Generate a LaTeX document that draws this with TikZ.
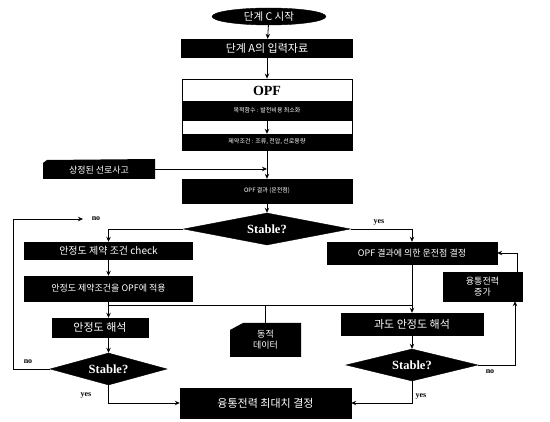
\documentclass[tikz,border=0pt]{standalone}
\usepackage{fontspec}
\setmainfont{Liberation Serif}
\newfontfamily\kr{Noto Sans CJK KR}
\usetikzlibrary{shapes.geometric,arrows.meta}
\begin{document}
\begin{tikzpicture}[x=1pt,y=-1pt,
  blk/.style={draw=black,fill=black,text=white,inner sep=0pt,align=center,
    font=\kr\fontsize{11}{12}\selectfont},
  dia/.style={diamond,aspect=5,draw=black,fill=black,text=white,inner sep=0pt,
    font=\bfseries\fontsize{12.5}{13}\selectfont},
  arr/.style={-{Stealth[length=5pt,width=4.5pt]},line width=0.8pt},
  ln/.style={line width=0.8pt},
  lbl/.style={font=\bfseries\fontsize{8}{9}\selectfont,inner sep=0pt}]
\useasboundingbox (0,0) rectangle (550,422);
\fill[white] (0,0) rectangle (550,422);

% top part
\node[ellipse,draw=black,fill=black,text=white,inner sep=0pt,minimum width=114,minimum height=17,
  font=\kr\fontsize{10.5}{11}\selectfont] (start) at (269,16.5) {단계 C 시작};
\node[blk,minimum width=171,minimum height=18] (inA) at (267,48) {단계 A의 입력자료};
\node[draw=black,line width=0.8pt,fill=white,minimum width=170,minimum height=71,inner sep=0pt] (opf) at (267,114.5) {};
\node[font=\bfseries\fontsize{14}{15}\selectfont,inner sep=0pt] (opft) at (267,91) {OPF};
\node[blk,minimum width=170,minimum height=19,font=\kr\fontsize{6}{7}\selectfont] (bar1) at (267,110.5) {목적함수 : 발전비용 최소화};
\node[blk,minimum width=170,minimum height=16,font=\kr\fontsize{6}{7}\selectfont] (bar2) at (267,142) {제약조건 : 조류, 전압, 선로용량};
\node[blk,minimum width=170,minimum height=24,font=\kr\fontsize{6}{7}\selectfont] (res) at (267,191) {OPF 결과 (운전점)};

% side input
\fill (43,163) -- (47,160) -- (155,159) -- (155,179) -- (43,179) -- cycle;
\node[text=white,font=\kr\fontsize{9}{10}\selectfont,inner sep=0pt] (side) at (99,170) {상정된 선로사고};
\coordinate (sideR) at (155,169);

\node[dia,minimum width=167,minimum height=32] (d1) at (267,229) {Stable?};

% left column
\node[blk,minimum width=168,minimum height=17,font=\kr\fontsize{10}{11}\selectfont] (lb1) at (108.5,250.5) {안정도 제약 조건 check};
\node[blk,minimum width=168,minimum height=25,font=\kr\fontsize{9}{10}\selectfont] (lb2) at (108.5,288.5) {안정도 제약조건을 OPF에 적용};
\node[blk,minimum width=96,minimum height=19] (lb3) at (100,327.5) {안정도 해석};
\node[dia,minimum width=117,minimum height=32] (d2) at (108.5,369) {Stable?};

% middle data box
\fill (230,330) -- (243,323) -- (301,323) -- (301,357) -- (230,357) -- cycle;
\node[text=white,font=\kr\fontsize{9}{11}\selectfont,inner sep=0pt,align=center] (mid) at (265.5,340) {동적\\데이터};
\coordinate (midN) at (265.5,323);

% right column
\node[blk,minimum width=170,minimum height=22,font=\kr\fontsize{9}{10}\selectfont] (rb1) at (412,253) {OPF 결과에 의한 운전점 결정};
\node[blk,minimum width=79,minimum height=29,font=\kr\fontsize{9}{11}\selectfont] (rb2) at (482.5,286.5) {융통전력\\증가};
\node[blk,minimum width=142,minimum height=22] (rb3) at (412,324) {과도 안정도 해석};
\node[dia,minimum width=132,minimum height=32] (d3) at (412,365) {Stable?};

% bottom
\node[blk,minimum width=171,minimum height=30] (fin) at (265.5,403) {융통전력 최대치 결정};

% connectors
\draw[arr] (start) -- (inA);
\draw[arr] (inA) -- (opf);
\draw[arr] (bar1) -- (bar2);
\draw[arr] (opf) -- (res);
\draw[arr] (sideR) -- (sideR -| res.north);
\draw[arr] (res) -- (d1);

\draw[arr] (d1.west) -| (lb1.north);
\draw[arr] (d1.east) -| (rb1.north);
\node[lbl] (yes1) at (379,222) {yes};

\draw[arr] (lb1) -- (lb2);
\coordinate (jl) at (108.5,305);
\coordinate (jr) at (412,305);
\draw[ln] (jl) -- (jr);
\draw[ln] (midN) -- (midN |- jl);
\draw[arr] (lb2.south) -- (lb2.south |- lb3.north);
\draw[arr] (rb1) -- (rb3);
\draw[arr] (lb2.south |- lb3.south) -- (d2.north);

\coordinate (loopA) at (13,369);
\coordinate (loopB) at (13,219);
\coordinate (noEnd) at (83,219);
\draw[arr] (d2.west) -- (loopA) -- (loopB) -- (noEnd);
\node[lbl] (no1) at (96,218.5) {no};
\node[lbl] (no2) at (28,362) {no};

\draw[arr] (d2.south) |- (fin.west);
\node[lbl] (yes2) at (86,395) {yes};

\draw[arr] (rb3) -- (d3);
\coordinate (rr) at (515,365);
\draw[arr] (d3.east) -- (rr) -- (rr |- rb2.south);
\node[lbl] (no3) at (490,372) {no};
\coordinate (rt) at (517,272);
\draw[arr] (rt) |- (rb1.east);
\draw[arr] (d3.south) |- (fin.east);
\node[lbl] (yes3) at (421,396) {yes};
\end{tikzpicture}
\end{document}
